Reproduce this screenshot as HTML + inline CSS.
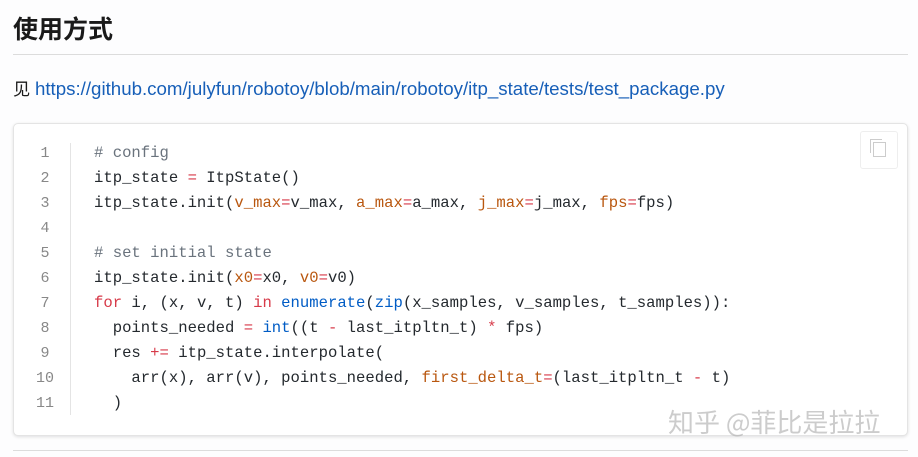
<!DOCTYPE html>
<html><head><meta charset="utf-8"><style>
body{margin:0;width:918px;height:457px;background:#fdfdfe;font-family:"Liberation Sans","Noto Sans CJK SC",sans-serif;overflow:hidden;position:relative}
h2{position:absolute;left:13px;top:12px;margin:0;font-size:25px;font-weight:bold;color:#1a1a1a;line-height:36px}
.hr{position:absolute;left:13px;right:10px;top:54px;border-top:1px solid #dcdcdc}
.p{position:absolute;left:13px;top:77px;font-size:17.2px;color:#1a1a1a;line-height:24px;white-space:nowrap}
.p span{color:#175fb8;font-size:18.7px}
.box{position:absolute;left:13px;top:123px;width:893px;height:311px;background:#fff;border:1px solid #e4e4e4;border-radius:5px;box-shadow:0 1px 3px rgba(0,0,0,.12)}
.code{position:absolute;top:141px;left:94px;font-family:"Liberation Mono",monospace;font-size:15.6px;line-height:25px;white-space:pre;color:#24292e}
.nums{position:absolute;left:30px;top:141px;width:30px;text-align:center;font-family:"Liberation Mono",monospace;font-size:15px;line-height:25px;color:#888;white-space:pre}
.sep{position:absolute;left:70px;top:143px;height:272px;border-left:1px solid #e4e4e4}
.k{color:#d73a49}.a{color:#b9570f}.b{color:#005cc5}.c{color:#6a737d}
.copy{position:absolute;left:860px;top:131px;width:36px;height:36px;border:1px solid #eee;border-radius:3px;background:#fff}
.copy i{position:absolute;left:12px;top:10px;width:11px;height:13px;border:1px solid #ccc}
.copy b{position:absolute;left:9px;top:7px;width:11px;height:13px;border-left:1px solid #ccc;border-top:1px solid #ccc}
.wm{position:absolute;left:668px;top:404px;font-size:26px;color:rgba(170,170,170,.6);font-family:"Noto Sans CJK SC",sans-serif;white-space:nowrap;line-height:36px}
.bl{position:absolute;left:13px;right:10px;top:450px;border-top:1px solid #dcdcdc}
</style></head><body>
<h2>使用方式</h2>
<div class="hr"></div>
<div class="p">见 <span>https://github.com/julyfun/robotoy/blob/main/robotoy/itp_state/tests/test_package.py</span></div>
<div class="box"></div>
<div class="copy"><b></b><i></i></div>
<div class="nums">1
2
3
4
5
6
7
8
9
10
11</div>
<div class="sep"></div>
<div class="code"><span class="c"># config</span>
itp_state <span class="k">=</span> ItpState()
itp_state.init(<span class="a">v_max</span><span class="k">=</span>v_max, <span class="a">a_max</span><span class="k">=</span>a_max, <span class="a">j_max</span><span class="k">=</span>j_max, <span class="a">fps</span><span class="k">=</span>fps)

<span class="c"># set initial state</span>
itp_state.init(<span class="a">x0</span><span class="k">=</span>x0, <span class="a">v0</span><span class="k">=</span>v0)
<span class="k">for</span> i, (x, v, t) <span class="k">in</span> <span class="b">enumerate</span>(<span class="b">zip</span>(x_samples, v_samples, t_samples)):
  points_needed <span class="k">=</span> <span class="b">int</span>((t <span class="k">-</span> last_itpltn_t) <span class="k">*</span> fps)
  res <span class="k">+=</span> itp_state.interpolate(
    arr(x), arr(v), points_needed, <span class="a">first_delta_t</span><span class="k">=</span>(last_itpltn_t <span class="k">-</span> t)
  )</div>
<div class="wm">知乎 @菲比是拉拉</div>
<div class="bl"></div>
</body></html>
